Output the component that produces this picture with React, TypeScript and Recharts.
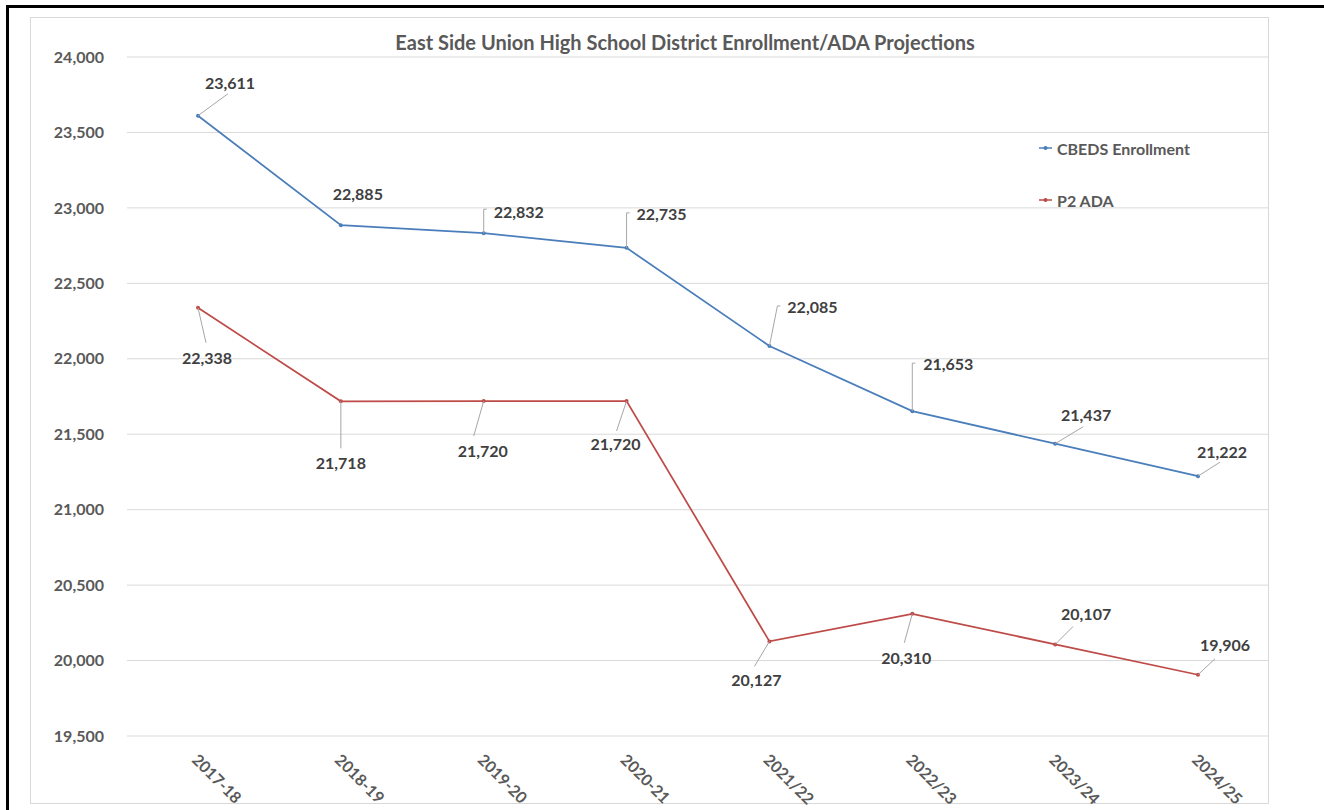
import { LineChart, Line, XAxis, YAxis, CartesianGrid, Legend, LabelList } from 'recharts';

const categories = ['2017-18', '2018-19', '2019-20', '2020-21', '2021/22', '2022/23', '2023/24', '2024/25'];
const enrollment = [23611, 22885, 22832, 22735, 22085, 21653, 21437, 21222];
const p2Ada = [22338, 21718, 21720, 21720, 20127, 20310, 20107, 19906];
const yTicks = [19500, 20000, 20500, 21000, 21500, 22000, 22500, 23000, 23500, 24000];

const data = categories.map((year, i) => ({
  year,
  enrollment: enrollment[i],
  ada: p2Ada[i],
}));

// label centre offsets from each point, and leader line paths (relative)
const enrollLabelPos = [[32, -33], [17, -32], [35, -22], [35, -34], [43, -39], [36, -48], [31, -29], [24, -25]];
const enrollLeaders = [
  [[0, 0], [30, -22]],
  null,
  [[0, 0], [0, -24], [3, -24]],
  [[0, 0], [0, -35], [3, -35]],
  [[0, 0], [8, -40], [11, -40]],
  [[0, 0], [0, -48], [3, -48]],
  [[0, 0], [28, -17]],
  [[0, 0], [22, -14]],
];
const adaLabelPos = [[9, 50], [0, 61], [-1, 49], [-11, 42], [-13, 38], [-6, 44], [31, -31], [27, -30]];
const adaLeaders = [
  [[0, 0], [8, 35]],
  [[0, 0], [0, 47]],
  [[0, 0], [-10, 35]],
  [[0, 0], [-10, 30]],
  [[0, 0], [-15, 25]],
  [[0, 0], [-8, 29]],
  [[0, 0], [18, -18]],
  [[0, 0], [17, -16]],
];

const FONT = 'Lato, "Open Sans", sans-serif';

const makeLabel = (pos: number[][], leaders: (number[][] | null)[]) => (props: any) => {
  const { x, y, value, index } = props;
  const [dx, dy] = pos[index];
  const leader = leaders[index];
  return (
    <g key={`lbl-${index}`}>
      {leader && (
        <polyline
          points={leader.map(([lx, ly]) => `${x + lx},${y + ly}`).join(' ')}
          fill="none"
          stroke="#a6a6a6"
          strokeWidth={1}
        />
      )}
      <text
        x={x + dx}
        y={y + dy}
        textAnchor="middle"
        dominantBaseline="central"
        fontFamily={FONT}
        fontWeight={700}
        fontSize={16}
        fill="#404040"
      >
        {Number(value).toLocaleString('en-US')}
      </text>
    </g>
  );
};

const XTick = ({ x, y, payload }: any) => {
  const px = x - 7;
  const py = y + 23;
  return (
    <text
      x={px}
      y={py}
      transform={`rotate(45, ${px}, ${py})`}
      textAnchor="start"
      fontFamily={FONT}
      fontWeight={700}
      fontSize={16}
      fill="#595959"
    >
      {payload.value}
    </text>
  );
};

const renderLegend = ({ payload }: any) => (
  <div style={{ fontFamily: FONT, fontWeight: 700, fontSize: 16, color: '#595959' }}>
    {(payload || []).map((p: any) => (
      <div key={p.value} style={{ display: 'flex', alignItems: 'center', height: 20, marginBottom: 32 }}>
        <svg width={15} height={8} style={{ marginRight: 3 }}>
          <line x1={0} y1={4} x2={13} y2={4} stroke={p.color} strokeWidth={1.5} />
          <circle cx={6.5} cy={4} r={2} fill={p.color} />
        </svg>
        <span>{p.value}</span>
      </div>
    ))}
  </div>
);

export default function App() {
  return (
    <div
      style={{
        position: 'absolute',
        left: 0,
        top: 0,
        width: 1324,
        height: 810,
        overflow: 'hidden',
        background: '#fff',
      }}
    >
      <div
        style={{
          position: 'absolute',
          left: 6,
          top: 5,
          width: 1400,
          height: 900,
          border: '3px solid #000',
        }}
      />
      <div
        style={{
          position: 'absolute',
          left: 30,
          top: 17,
          width: 1239,
          height: 787,
          border: '1px solid #d9d9d9',
          boxSizing: 'border-box',
        }}
      />
      <div
        style={{
          position: 'absolute',
          left: 335,
          top: 30,
          width: 700,
          textAlign: 'center',
          fontFamily: FONT,
          fontWeight: 700,
          fontSize: 20,
          color: '#595959',
        }}
      >
        East Side Union High School District Enrollment/ADA Projections
      </div>
      <div style={{ position: 'absolute', left: 0, top: 0 }}>
        <LineChart
          width={1324}
          height={810}
          data={data}
          margin={{ top: 57, right: 55, left: 27, bottom: 14 }}
        >
          <CartesianGrid vertical={false} stroke="#d9d9d9" strokeWidth={1} />
          <XAxis
            dataKey="year"
            height={60}
            padding={{ left: 71, right: 71 }}
            axisLine={false}
            tickLine={false}
            tickSize={0}
            tick={<XTick />}
            interval={0}
          />
          <YAxis
            width={100}
            domain={[19500, 24000]}
            ticks={yTicks}
            axisLine={false}
            tickLine={false}
            tickSize={0}
            tickMargin={23}
            tickFormatter={(v: number) => v.toLocaleString('en-US')}
            tick={{ fontFamily: FONT, fontWeight: 700, fontSize: 16, fill: '#595959' }}
          />
          <Legend
            layout="vertical"
            align="center"
            verticalAlign="middle"
            content={renderLegend}
            wrapperStyle={{ left: 1039, top: 138, width: 220 }}
          />
          <Line
            name="CBEDS Enrollment"
            dataKey="enrollment"
            stroke="#4a7ebb"
            strokeWidth={1.75}
            dot={{ r: 2, fill: '#4a7ebb', stroke: '#4a7ebb', strokeWidth: 0 }}
            isAnimationActive={false}
          >
            <LabelList dataKey="enrollment" content={makeLabel(enrollLabelPos, enrollLeaders)} />
          </Line>
          <Line
            name="P2 ADA"
            dataKey="ada"
            stroke="#be4b48"
            strokeWidth={1.75}
            dot={{ r: 2, fill: '#be4b48', stroke: '#be4b48', strokeWidth: 0 }}
            isAnimationActive={false}
          >
            <LabelList dataKey="ada" content={makeLabel(adaLabelPos, adaLeaders)} />
          </Line>
        </LineChart>
      </div>
    </div>
  );
}
